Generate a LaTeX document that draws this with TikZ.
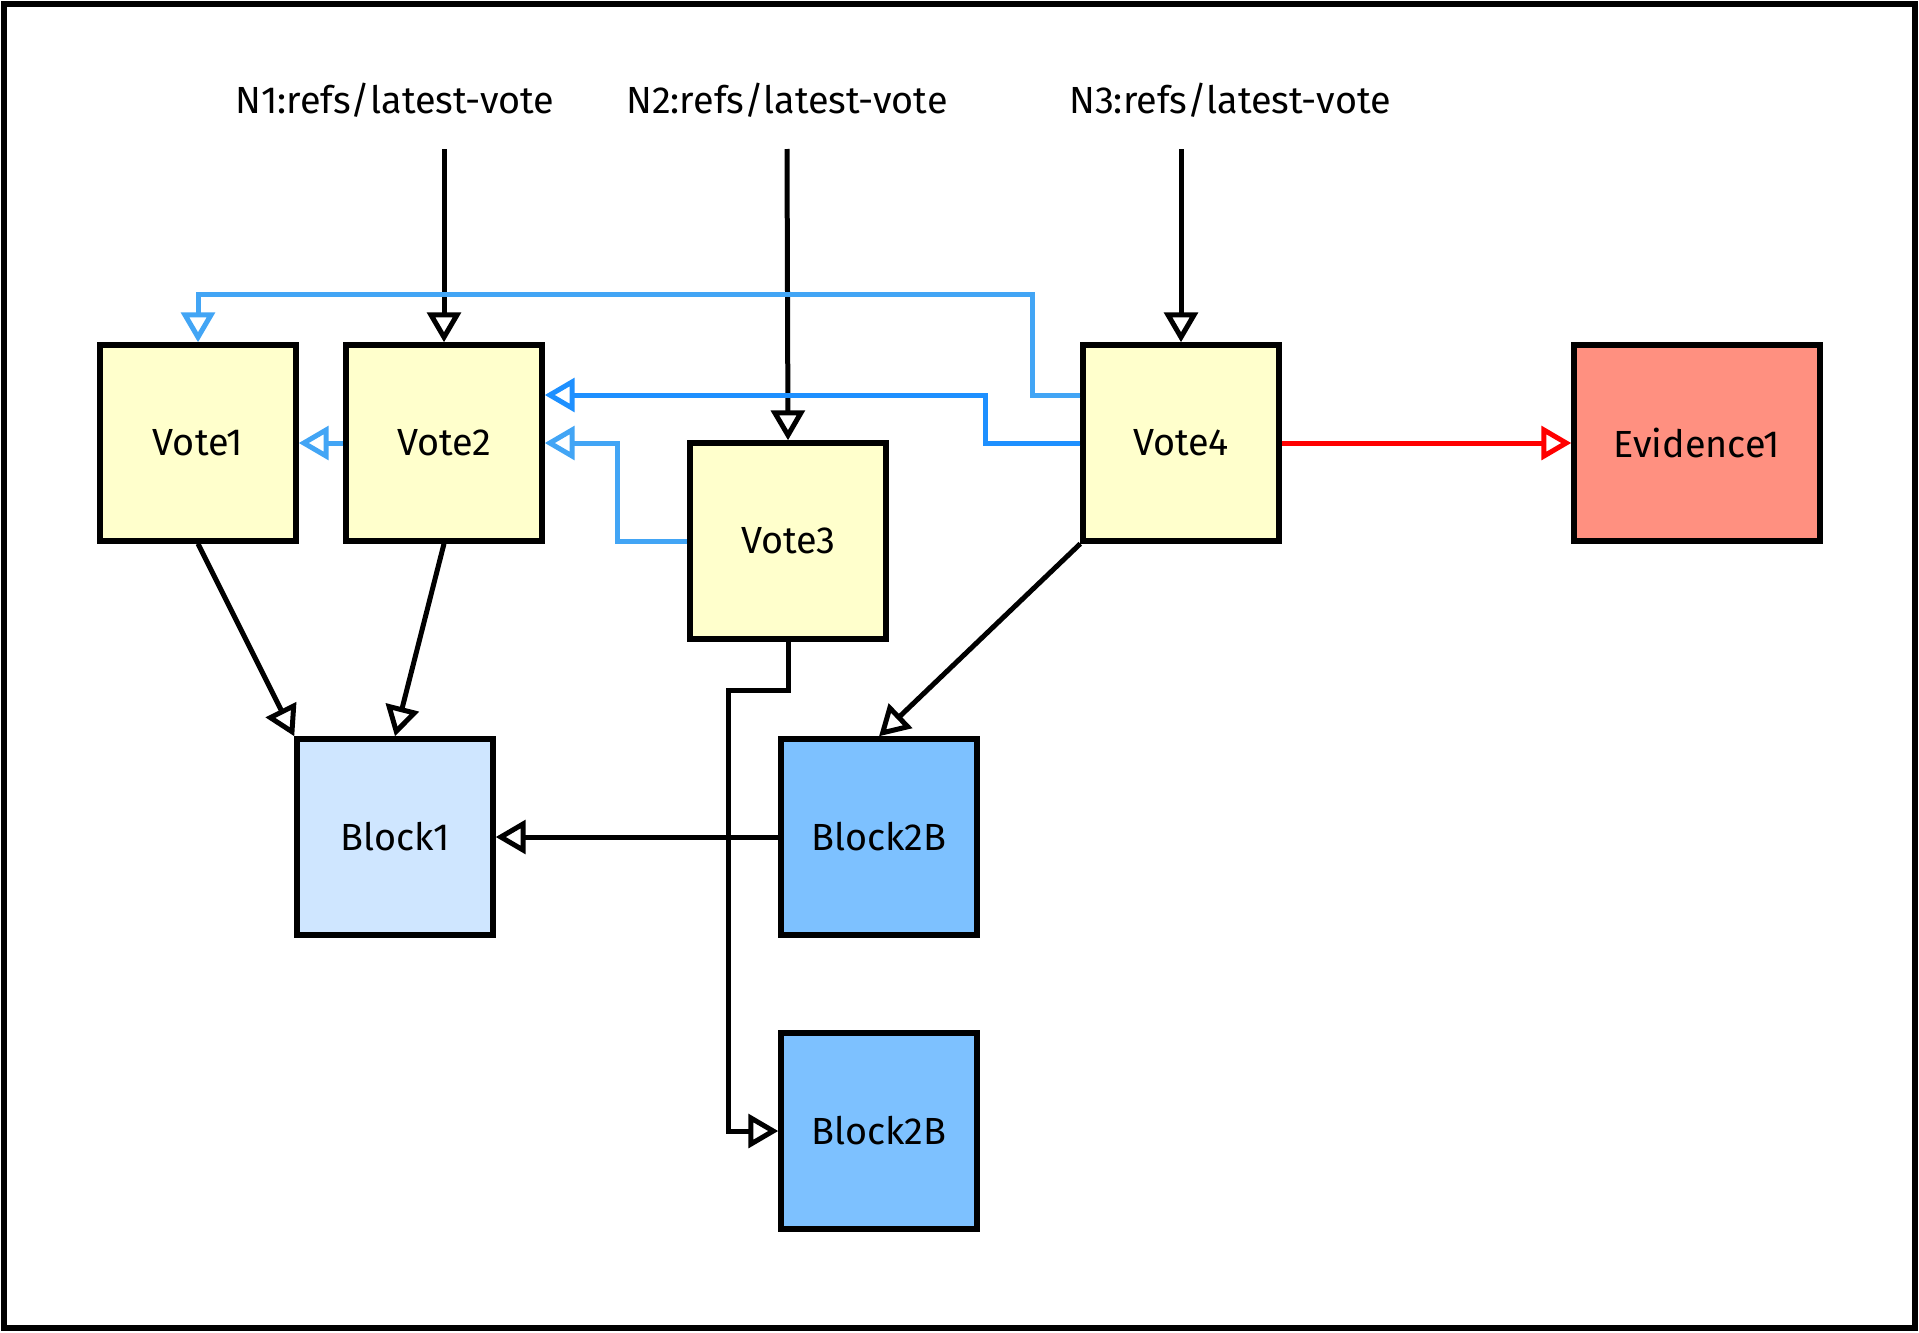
\documentclass[tikz,border=0pt]{standalone}
\usepackage{fontspec}
\setmainfont{Fira Sans}
\usetikzlibrary{arrows.meta,calc}
\definecolor{votefill}{HTML}{FFFFCC}
\definecolor{blockone}{HTML}{CFE6FF}
\definecolor{blocktwo}{HTML}{7DC1FF}
\definecolor{evfill}{HTML}{FF9080}
\definecolor{lblue}{HTML}{42A5F5}
\definecolor{dblue}{HTML}{1E90FF}
\begin{document}
\begin{tikzpicture}[x=0.02cm,y=-0.02cm,
  font=\fontsize{21.5}{26}\selectfont,
  box/.style={draw=black,line width=0.11cm,minimum width=3.92cm,minimum height=3.92cm,inner sep=0pt},
  vote/.style={box,fill=votefill},
  tipst/.style={-{Triangle[open,length=17pt,width=19pt,fill=white]}},
  blk/.style={tipst,draw=black,line width=0.1cm},
  lb/.style={tipst,draw=lblue,line width=0.1cm},
  db/.style={tipst,draw=dblue,line width=0.1cm},
  rd/.style={tipst,draw=red,line width=0.1cm},
  lab/.style={inner sep=0pt}
]
\useasboundingbox (0,0) rectangle (1919,1332);
\draw[line width=0.11cm] (4,4) rectangle (1915,1328);

\node[vote] (v1) at (198,443) {Vote1};
\node[vote] (v2) at (444,443) {Vote2};
\node[vote] (v3) at (788,541) {Vote3};
\node[vote] (v4) at (1181,443) {Vote4};
\node[box,fill=evfill,minimum width=4.92cm] (ev) at (1697,443) {Evidence1};
\node[box,fill=blockone] (b1) at (395,837) {Block1};
\node[box,fill=blocktwo] (b2a) at (879,837) {Block2B};
\node[box,fill=blocktwo] (b2b) at (879,1131) {Block2B};

\node[lab] (n1) at (395,100) {N1:refs/latest-vote};
\node[lab] (n2) at (787,100) {N2:refs/latest-vote};
\node[lab] (n3) at (1230,100) {N3:refs/latest-vote};
\coordinate (c1) at (444,149);
\coordinate (c2) at (787,149);
\coordinate (c3) at (1181,149);

\draw[blk] (c1) -- (v2.north);
\draw[blk] (c2) -- (v3.north);
\draw[blk] (c3) -- (v4.north);

\draw[lb] ($(v4.west)+(0,-48)$) -- (1032,395) -- (1032,294) -| (v1.north);
\draw[db] (v4.west) -- (985,443) |- ($(v2.east)+(0,-48)$);
\draw[lb] (v3.west) -- (617,541) |- (v2.east);
\draw[lb] (v2.west) -- (v1.east);

\draw[blk] (v1.south) -- (b1.north west);
\draw[blk] (v2.south) -- (b1.north);
\draw[blk] (v4.south west) -- (b2a.north);
\draw[blk] (b2a.west) -- (b1.east);
\draw[blk] (v3.south) -- (788,690) -- (728,690) |- (b2b.west);
\draw[rd] (v4.east) -- (ev.west);
\end{tikzpicture}
\end{document}
